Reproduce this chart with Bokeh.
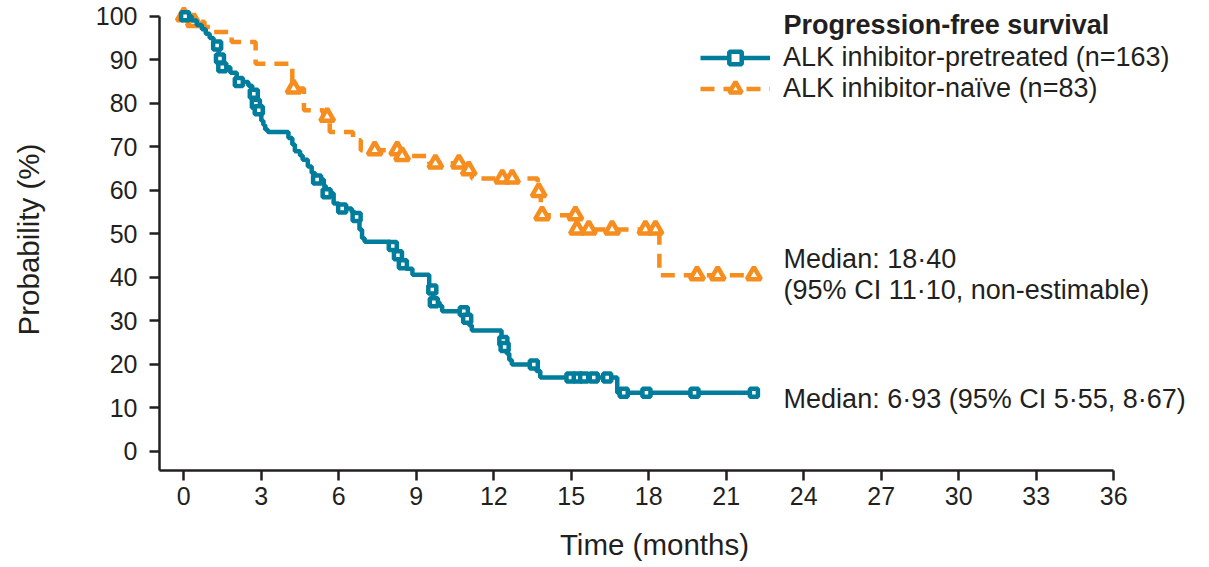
import math
from bokeh.plotting import figure
from bokeh.models import Range1d, FixedTicker, Label, Legend, LegendItem
from bokeh.embed import file_html
from bokeh.resources import INLINE

# ---------------- data ----------------
# ALK inhibitor-pretreated (n=163): Kaplan-Meier steps (time in months, PFS %)
pre_time = [0, 0.3, 0.5, 0.7, 0.85, 1.0, 1.15, 1.35, 1.45, 1.8, 2.05, 2.5, 2.65, 2.75, 2.85,
            3.0, 3.08, 3.15, 3.25, 4.05, 4.2, 4.3, 4.5, 4.6, 4.8, 4.95, 5.08, 5.42, 5.5, 5.8,
            6.0, 6.5, 6.62, 6.8, 6.9, 7.0, 7.98, 8.2, 8.4, 8.6, 8.85, 9.5, 9.65, 9.9, 10.0,
            10.9, 11.05, 11.15, 12.3, 12.4, 12.5, 12.6, 12.7, 13.65, 13.8, 16.78, 22.07]
pre_surv = [100, 99, 98, 97, 96, 95, 93.3, 90.3, 88.3, 87, 84.9, 84, 82.2, 79.9, 78.4,
            76, 75, 74, 73.4, 72, 70.5, 69, 68, 67, 65.5, 64, 62.5, 61, 59.3, 57,
            55.8, 55, 53.9, 51, 49, 48.2, 47.2, 45.1, 43, 42, 40.6, 37.2, 34.3, 33.5, 32.2,
            30.5, 29, 27.8, 25.4, 24, 22.5, 21, 20, 18.5, 17, 13.5, 13.5]
# censored observations
pre_cens_time = [0.05, 1.29, 1.4, 1.49, 2.13, 2.71, 2.79, 2.9, 5.16, 5.53, 6.13, 6.69, 8.09,
                 8.29, 8.48, 9.62, 9.68, 10.84, 10.97, 12.37, 12.42, 13.55, 14.97, 15.25,
                 15.5, 15.87, 16.39, 17.03, 17.91, 19.77, 22.07]
pre_cens_surv = [100, 93.3, 90.3, 88.3, 84.9, 82.2, 79.9, 78.4, 62.5, 59.3, 55.8, 53.9, 47.2,
                 45.1, 43.0, 37.2, 34.3, 32.2, 30.5, 25.4, 24.0, 20.0, 17.0, 17.0,
                 17.0, 17.0, 17.0, 13.5, 13.5, 13.5, 13.5]

# ALK inhibitor-naive (n=83)
nai_time = [0, 0.3, 0.8, 1.1, 1.85, 2.78, 4.2, 4.65, 5.4, 5.65, 6.55, 6.85, 8.35, 9.5,
            10.9, 11.15, 13.7, 13.82, 15.2, 18.41, 22.07]
nai_surv = [100, 98.7, 97.5, 96.4, 94.1, 89.1, 83.4, 78.4, 76.9, 73.4, 71.5, 69.2, 67.9, 66.2,
            64.6, 62.7, 59.6, 54.3, 51.0, 40.5, 40.5]
nai_cens_time = [0.0, 0.39, 4.25, 5.55, 7.39, 8.26, 8.45, 9.74, 10.65, 11.03, 12.33, 12.71,
                 13.74, 13.87, 15.16, 15.22, 15.68, 16.58, 17.87, 18.26, 19.87, 20.67, 22.07]
nai_cens_surv = [100, 98.7, 83.4, 76.9, 69.2, 69.2, 67.9, 66.2, 66.2, 64.6, 62.7, 62.7,
                 59.6, 54.3, 54.3, 51.0, 51.0, 51.0, 51.0, 51.0, 40.5, 40.5, 40.5]

x_ticks = [0, 3, 6, 9, 12, 15, 18, 21, 24, 27, 30, 33, 36]
y_ticks = [0, 10, 20, 30, 40, 50, 60, 70, 80, 90, 100]

series_names = ["ALK inhibitor-pretreated (n=163)", "ALK inhibitor-naïve (n=83)"]
legend_title = "Progression-free survival"
median_pre = "Median: 6·93 (95% CI 5·55, 8·67)"
median_nai_1 = "Median: 18·40"
median_nai_2 = "(95% CI 11·10, non-estimable)"
x_title = "Time (months)"
y_title = "Probability (%)"

# ---------------- style ----------------
TEAL = "#007d9c"
ORANGE = "#f68d1f"
TXT = "#231f20"
FONT = "Liberation Sans"

X0, X1 = -0.941, 36      # extent of the x-axis line
Y0, Y1 = -4.36, 100      # extent of the y-axis line

p = figure(frame_width=1200, frame_height=565,
           x_range=Range1d(-7.097, 39.36), y_range=Range1d(-26.19, 103.61),
           output_backend="svg", toolbar_location=None,
           min_border_left=0, min_border_right=0, min_border_top=0, min_border_bottom=0)
p.outline_line_color = None
p.xgrid.visible = False
p.ygrid.visible = False
p.background_fill_color = "white"
p.border_fill_color = "white"

for ax in (p.xaxis[0], p.yaxis[0]):
    ax.axis_line_color = TXT
    ax.axis_line_width = 2.5
    ax.major_tick_line_color = TXT
    ax.major_tick_line_width = 2.5
    ax.major_tick_out = 10
    ax.major_tick_in = 0
    ax.minor_tick_line_color = None
    ax.major_label_text_font = FONT
    ax.major_label_text_font_size = "25px"
    ax.major_label_text_color = TXT

p.xaxis.ticker = FixedTicker(ticks=x_ticks)
p.yaxis.ticker = FixedTicker(ticks=y_ticks)
p.xaxis.bounds = (X0, X1)
p.yaxis.bounds = (Y0, Y1)
p.xaxis.fixed_location = Y0
p.yaxis.fixed_location = X0
p.xaxis.major_label_standoff = 7
p.yaxis.major_label_standoff = 12

# curves
nai_line = p.step(nai_time, nai_surv, mode="after", line_color=ORANGE, line_width=4.5,
                  line_dash="14 9")
nai_pts = p.scatter(nai_cens_time, nai_cens_surv, marker="triangle", size=14,
                    line_color=ORANGE, line_width=4.5, fill_color="white")
pre_line = p.step(pre_time, pre_surv, mode="after", line_color=TEAL, line_width=4.5)
pre_pts = p.scatter(pre_cens_time, pre_cens_surv, marker="square", size=8,
                    line_color=TEAL, line_width=4.5, fill_color="white")

legend = Legend(items=[LegendItem(label=series_names[0], renderers=[pre_line, pre_pts]),
                       LegendItem(label=series_names[1], renderers=[nai_line, nai_pts])],
                location=(700, 461), orientation="vertical",
                glyph_width=70, glyph_height=31, label_height=31, label_standoff=13,
                spacing=0, padding=0, margin=0,
                border_line_color=None, background_fill_alpha=0,
                label_text_font=FONT, label_text_font_size="27px", label_text_color=TXT)
p.add_layout(legend)

def add_label(x, y, text, bold=False, size="27px", align="left", angle=0.0):
    p.add_layout(Label(x=x, y=y, text=text, text_font=FONT, text_font_size=size,
                       text_color=TXT, text_baseline="alphabetic", text_align=align,
                       angle=angle,
                       text_font_style="bold" if bold else "normal"))

add_label(23.22, 98.0, legend_title, bold=True)
add_label(23.22, 44.3, median_nai_1)
add_label(23.22, 37.0, median_nai_2)
add_label(23.22, 12.0, median_pre)
add_label(18.22, -21.36, x_title, size="29.5px", align="center")
add_label(-6.02, 48.7, y_title, size="29.5px", align="center", angle=math.pi / 2)

open("out.html", "w").write(file_html(p, INLINE))
